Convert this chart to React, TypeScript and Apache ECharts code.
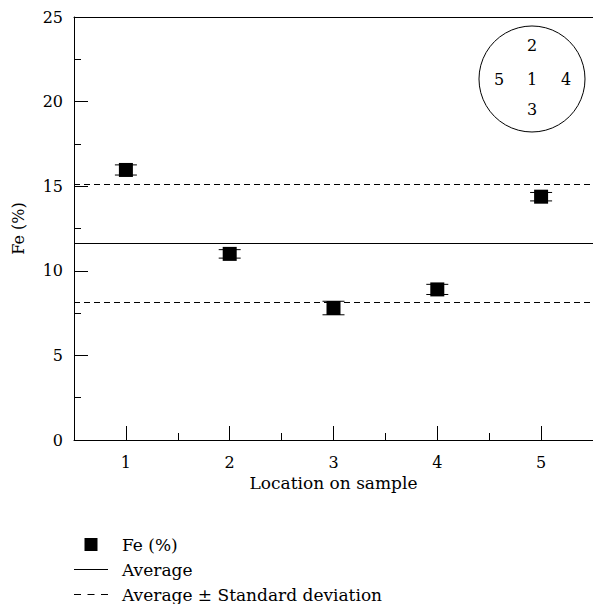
import React, { useEffect, useRef } from "react";
import * as echarts from "echarts";

const locations = ["1", "2", "3", "4", "5"];
const feValues = [15.96, 11.0, 7.8, 8.9, 14.38];
const feErrors = [0.3, 0.25, 0.4, 0.3, 0.25];
const averageValue = 11.62;
const stdValue = 3.5;
const yTicks = [0, 5, 10, 15, 20, 25];
const insetLabels = [
  { text: "2", dx: 0, dy: -34 },
  { text: "1", dx: 0, dy: 0 },
  { text: "5", dx: -33, dy: 0 },
  { text: "4", dx: 34, dy: 0 },
  { text: "3", dx: 0, dy: 30 },
];

const FONT = "DejaVu Serif";
const FS = 16;
const FS_NAME = 17;

export default function App() {
  const ref = useRef<HTMLDivElement>(null);
  useEffect(() => {
    if (!ref.current) return;
    const chart = echarts.init(ref.current, undefined, { renderer: "svg" });
    const black = "#000";
    const cx = 532;
    const cy = 79;
    chart.setOption({
      animation: false,
      textStyle: { fontFamily: FONT, color: black },
      grid: {
        left: 74,
        top: 17,
        width: 521,
        height: 423,
        show: false,
      },
      legend: {
        orient: "vertical",
        left: 74,
        top: 536,
        padding: 0,
        height: 100,
        itemWidth: 34,
        itemHeight: 13,
        itemGap: 8,
        selectedMode: false,
        textStyle: { fontFamily: FONT, fontSize: FS_NAME, color: black, padding: [0, 0, 0, 9] },
        data: [
          { name: "Fe (%)", icon: "path://M0,0h10v10h-10z", itemStyle: { color: black, opacity: 1 } },
          { name: "Average", icon: "path://M0,0h34v1h-34z", itemStyle: { color: black, opacity: 1 } },
          {
            name: "Average ± Standard deviation",
            icon: "path://M0,0h7v1h-7zM13.5,0h7v1h-7zM27,0h7v1h-7z",
            itemStyle: { color: black, opacity: 1 },
          },
        ],
      },
      xAxis: [
        {
          type: "category",
          data: locations,
          boundaryGap: true,
          name: "Location on sample",
          nameLocation: "middle",
          nameGap: 34,
          nameTextStyle: { fontFamily: FONT, fontSize: FS_NAME, color: black },
          axisLine: { show: true, lineStyle: { color: black, width: 1 } },
          axisTick: { show: true, inside: true, alignWithLabel: true, length: 14, lineStyle: { color: black } },
          axisLabel: { fontFamily: FONT, fontSize: FS, color: black, margin: 14 },
          splitLine: { show: false },
        },
        {
          type: "category",
          data: locations,
          boundaryGap: true,
          position: "bottom",
          axisLine: { show: false },
          axisTick: { show: true, inside: true, alignWithLabel: false, length: 7, lineStyle: { color: black } },
          axisLabel: { show: false },
          splitLine: { show: false },
        },
        {
          type: "category",
          data: locations,
          boundaryGap: true,
          position: "top",
          axisLine: { show: true, lineStyle: { color: black, width: 1 } },
          axisTick: { show: false },
          axisLabel: { show: false },
          splitLine: { show: false },
        },
      ],
      yAxis: {
        type: "value",
        min: yTicks[0],
        max: yTicks[yTicks.length - 1],
        interval: 5,
        name: "Fe (%)",
        nameLocation: "middle",
        nameGap: 48,
        nameRotate: 90,
        nameTextStyle: { fontFamily: FONT, fontSize: FS, color: black },
        axisLine: { show: true, lineStyle: { color: black, width: 1 } },
        axisTick: { show: true, inside: true, length: 14, lineStyle: { color: black } },
        minorTick: { show: true, splitNumber: 2, length: 7, lineStyle: { color: black } },
        axisLabel: { fontFamily: FONT, fontSize: FS, color: black, margin: 11 },
        splitLine: { show: false },
        minorSplitLine: { show: false },
      },
      graphic: [
        {
          type: "circle",
          shape: { cx, cy, r: 53 },
          style: { fill: "none", stroke: black, lineWidth: 1 },
          z: 10,
        },
        ...insetLabels.map((l) => ({
          type: "text",
          x: cx + l.dx,
          y: cy + l.dy,
          style: {
            text: l.text,
            fontFamily: FONT,
            fontSize: FS,
            fill: black,
            align: "center",
            verticalAlign: "middle",
          },
          z: 10,
        })),
      ],
      series: [
        {
          name: "Average",
          type: "line",
          data: [],
          symbol: "none",
          lineStyle: { color: black, width: 1, type: "solid" },
          itemStyle: { color: black },
          markLine: {
            silent: true,
            symbol: "none",
            label: { show: false },
            lineStyle: { color: black, width: 1, type: "solid" },
            data: [{ yAxis: averageValue }],
          },
        },
        {
          name: "Average ± Standard deviation",
          type: "line",
          data: [],
          symbol: "none",
          lineStyle: { color: black, width: 1, type: [6, 4] },
          itemStyle: { color: black },
          markLine: {
            silent: true,
            symbol: "none",
            label: { show: false },
            lineStyle: { color: black, width: 1, type: [6, 4] },
            data: [{ yAxis: averageValue + stdValue }, { yAxis: averageValue - stdValue }],
          },
        },
        {
          name: "errors",
          type: "custom",
          xAxisIndex: 0,
          encode: { x: 0, y: 1 },
          data: feValues.map((v, i) => [i, v, feErrors[i]]),
          renderItem: (params: any, api: any) => {
            const x = api.value(0);
            const y = api.value(1);
            const e = api.value(2);
            const top = api.coord([x, y + e]);
            const bot = api.coord([x, y - e]);
            const hw = 11;
            const st = { stroke: black, lineWidth: 1 };
            return {
              type: "group",
              children: [
                { type: "line", shape: { x1: top[0], y1: top[1], x2: bot[0], y2: bot[1] }, style: st },
                { type: "line", shape: { x1: top[0] - hw, y1: top[1], x2: top[0] + hw, y2: top[1] }, style: st },
                { type: "line", shape: { x1: bot[0] - hw, y1: bot[1], x2: bot[0] + hw, y2: bot[1] }, style: st },
              ],
            };
          },
          z: 3,
        },
        {
          name: "Fe (%)",
          type: "scatter",
          xAxisIndex: 0,
          data: feValues,
          symbol: "rect",
          symbolSize: 14,
          itemStyle: { color: black, opacity: 1 },
          z: 5,
        },
      ],
    });
    return () => chart.dispose();
  }, []);
  return (
    <div
      ref={ref}
      style={{ position: "absolute", left: 0, top: 0, width: 593, height: 604 }}
    />
  );
}
